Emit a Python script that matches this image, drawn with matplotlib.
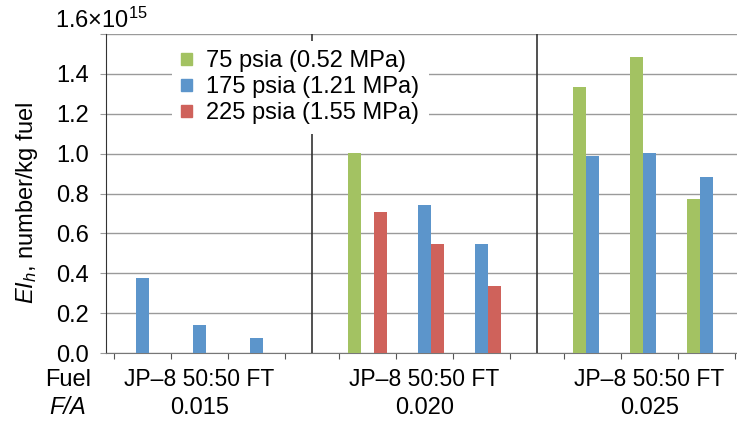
import matplotlib
matplotlib.use("Agg")
import matplotlib.pyplot as plt
from matplotlib.patches import Patch
import numpy as np

plt.rcParams['font.family'] = ['Liberation Sans', 'DejaVu Sans']
plt.rcParams['mathtext.fontset'] = 'custom'
plt.rcParams['mathtext.rm'] = 'Liberation Sans'
plt.rcParams['mathtext.it'] = 'Liberation Sans:italic'

fuels = ['JP–8', '50:50', 'FT']
fa_ratios = ['0.015', '0.020', '0.025']
pressures = ['75 psia (0.52 MPa)', '175 psia (1.21 MPa)', '225 psia (1.55 MPa)']
colors = ['#A3C262', '#5C95CB', '#CF625B']

nan = np.nan
# EI_h in units of 1e15 number/kg fuel, rows = F/A, cols = fuel
ei_75 = [[nan, nan, nan], [1.005, nan, nan], [1.335, 1.487, 0.773]]
ei_175 = [[0.375, 0.141, 0.076], [nan, 0.742, 0.548], [0.986, 1.005, 0.882]]
ei_225 = [[nan, nan, nan], [0.707, 0.548, 0.336], [nan, nan, nan]]
series = [ei_75, ei_175, ei_225]

W, H = 737, 421
fig = plt.figure(figsize=(W / 100, H / 100), dpi=100)
ax = fig.add_axes([106 / W, 1 - 353 / H, 1 - 106 / W, (353 - 34) / H])

group_step = 225 / 57
bw = 0.223
for s, vals in enumerate(series):
    for g in range(3):
        x = g * group_step + np.arange(3) + (s - 1) * bw
        ax.bar(x, vals[g], width=bw, color=colors[s], zorder=3)

ax.set_xlim((106 - 142.5) / 57, (737 - 142.5) / 57)
ax.set_ylim(0, 1.6)
ax.set_yticks(np.arange(0, 1.61, 0.2))
ax.set_yticklabels([f'{v:.1f}' for v in np.arange(0, 1.41, 0.2)] + [''])
ax.grid(axis='y', color='#9a9a9a', lw=1, zorder=0)
ax.tick_params(axis='y', length=4, color='#9a9a9a', labelsize=17, pad=8)

ticks = []
for g in range(3):
    ticks += [g * group_step - 0.5 + k for k in range(4)]
ax.set_xticks(ticks)
ax.set_xticklabels([])
ax.tick_params(axis='x', length=4, color='#555555', direction='out')

for g in (1, 2):
    ax.axvline(g * group_step - 0.974, color='#333333', lw=1.2, zorder=2)

for sp in ('top', 'right'):
    ax.spines[sp].set_visible(False)
ax.spines['left'].set_color('#333333')
ax.spines['bottom'].set_color('#777777')

# category labels below axis
trans = ax.get_xaxis_transform()
for g in range(3):
    xc = g * group_step + 1
    ax.text(xc, -27 / 319, ' '.join(fuels), transform=trans, ha='center', va='center', fontsize=16.5)
    ax.text(xc, -55 / 319, fa_ratios[g], transform=trans, ha='center', va='center', fontsize=17)
fig.text(68 / W, 1 - 380 / H, 'Fuel', ha='center', va='center', fontsize=17)
fig.text(68 / W, 1 - 408 / H, 'F/A', ha='center', va='center', fontsize=17, style='italic')

fig.text(55 / W, 1 - 28 / H, r'1.6$\times$10$^{15}$', ha='left', va='baseline', fontsize=17)
fig.text(27 / W, 1 - 203 / H, r'$EI_h$, number/kg fuel', rotation=90,
         ha='center', va='center', fontsize=17)

handles = [Patch(color=c) for c in colors]
leg = ax.legend(handles, pressures, loc='upper left', bbox_to_anchor=(172 / W, 1 - 41 / H),
                bbox_transform=fig.transFigure, fontsize=17, frameon=True, fancybox=False,
                edgecolor='none', facecolor='white', framealpha=1,
                handlelength=0.45, handleheight=0.45, handletextpad=0.6,
                labelspacing=0.17, borderpad=0.4, borderaxespad=0)
leg.set_zorder(5)

fig.savefig('out.png', dpi=100)
